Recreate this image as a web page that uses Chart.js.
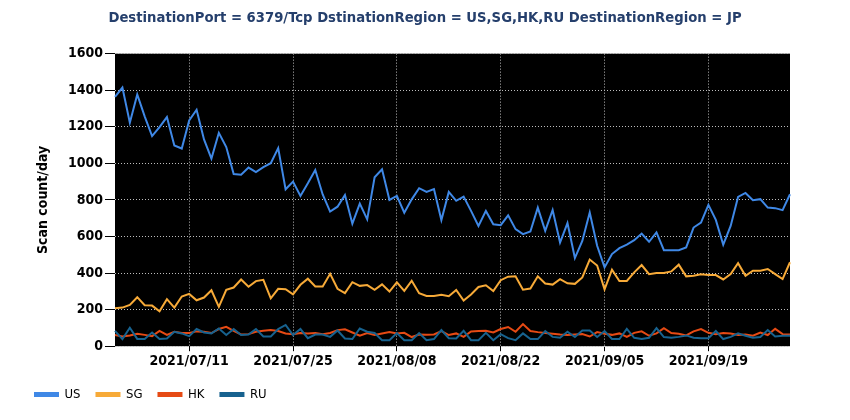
<!DOCTYPE html>
<html>
<head>
<meta charset="utf-8">
<script src="https://cdn.jsdelivr.net/npm/chart.js@4"></script>
<style>
  html, body { margin: 0; padding: 0; background: #fff; }
  #wrap { width: 850px; height: 420px; position: relative; }
</style>
</head>
<body>
<div id="wrap"><canvas id="scanChart"></canvas></div>
<script>
// daily categories 2021/07/01 .. 2021/09/30
const dates = []
for (let d = new Date(2021, 6, 1); d <= new Date(2021, 8, 30); d.setDate(d.getDate() + 1)) {
  dates.push(d.getFullYear() + '/' + String(d.getMonth() + 1).padStart(2, '0') + '/' + String(d.getDate()).padStart(2, '0'))
}
const tickLabels = ['2021/07/11', '2021/07/25', '2021/08/08', '2021/08/22', '2021/09/05', '2021/09/19']

const usData = [1363,1414,1222,1377,1257,1149,1198,1253,1098,1081,1235,1293,1131,1026,1167,1089,942,938,977,952,
  979,1001,1083,858,900,822,891,964,830,736,763,827,670,780,694,924,968,800,822,730,
  803,864,844,859,690,844,795,818,740,658,740,667,662,716,640,613,627,758,631,745,
  567,673,482,576,731,549,431,504,536,555,580,616,571,622,525,525,525,540,649,676,
  773,691,555,658,816,838,798,804,758,755,744,831]
const sgData = [207,211,226,268,224,222,191,257,211,272,286,251,266,306,215,308,321,365,325,356,
  363,262,314,312,284,336,369,327,327,396,314,290,350,330,334,308,338,299,349,303,
  358,290,275,275,281,273,308,250,283,324,333,302,361,380,382,309,315,382,343,337,
  367,344,341,376,474,441,311,419,357,357,404,444,394,400,400,409,446,382,385,393,
  389,389,365,394,454,385,413,413,422,394,367,459]
const hkData = [61,53,59,68,62,55,84,62,79,72,72,81,79,72,94,106,84,64,66,79,
  84,88,83,70,66,72,70,72,66,72,88,92,75,57,72,62,70,77,70,73,
  50,64,62,64,83,61,70,51,81,83,84,75,94,105,79,121,83,77,72,68,
  64,61,64,66,53,77,68,62,70,51,73,81,57,70,99,72,68,59,81,94,
  73,66,72,70,61,64,57,75,61,95,66,64]
const ruData = [84,39,101,40,40,75,39,42,79,70,55,94,75,70,97,61,94,61,64,94,
  53,53,94,116,61,94,44,64,64,51,86,42,39,97,79,72,33,33,72,33,
  33,72,33,39,88,44,42,84,33,33,73,33,66,44,33,70,39,39,83,51,
  46,79,50,86,86,50,83,40,39,95,46,40,46,99,50,46,51,59,46,44,
  44,83,39,51,70,57,46,50,88,53,57,57]

const seriesNames = ['US', 'SG', 'HK', 'RU']
const seriesColors = ['#3f88e6', '#f7aa38', '#e64a14', '#17628f']
const seriesData = [usData, sgData, hkData, ruData]

const FONT = '"DejaVu Sans Condensed", "DejaVu Sans", sans-serif'

// black plot background, and title centred on the whole canvas
const plotBg = {
  id: 'plotBg',
  afterLayout(chart) {
    const t = chart.titleBlock
    if (t) { t.left = 0; t.right = chart.width; t.width = chart.width }
  },
  beforeDraw(chart) {
    const a = chart.chartArea
    const c = chart.ctx
    c.save()
    c.fillStyle = '#000'
    c.fillRect(a.left, a.top, a.right - a.left, a.bottom - a.top)
    c.restore()
  }
}

new Chart(document.getElementById('scanChart'), {
  type: 'line',
  data: {
    labels: dates,
    datasets: seriesData.map((d, i) => ({
      label: seriesNames[i],
      data: d,
      borderColor: seriesColors[i],
      backgroundColor: seriesColors[i],
      borderWidth: 2,
      pointRadius: 0,
      tension: 0,
      order: 3 - i
    }))
  },
  options: {
    responsive: true,
    maintainAspectRatio: false,
    animation: false,
    layout: { padding: { left: 19, right: 60, top: 0, bottom: 9 } },
    plugins: {
      title: {
        display: true,
        text: 'DestinationPort = 6379/Tcp DstinationRegion = US,SG,HK,RU DestinationRegion = JP',
        color: '#253f6c',
        font: { family: FONT, size: 14.7, weight: 'bold' },
        padding: { top: 9, bottom: 27 }
      },
      legend: {
        position: 'bottom',
        align: 'start',
        labels: {
          boxWidth: 23,
          boxHeight: 3,
          padding: 16,
          color: '#000',
          font: { family: FONT, size: 13 },
          sort: (a, b) => a.datasetIndex - b.datasetIndex
        }
      },
      tooltip: { enabled: false }
    },
    scales: {
      x: {
        afterBuildTicks(scale) {
          scale.ticks = scale.ticks.filter(t => tickLabels.includes(dates[t.value]))
        },
        ticks: {
          autoSkip: false,
          maxRotation: 0,
          color: '#000',
          padding: 2,
          font: { family: FONT, size: 14, weight: 'bold' }
        },
        grid: {
          color: '#bdbdbd',
          tickColor: '#000',
          tickBorderDash: [],
          tickLength: 5,
          lineWidth: 1
        },
        border: { display: false, dash: [1, 2] }
      },
      y: {
        min: 0,
        max: 1600,
        afterFit(scale) { scale.width = 96 },
        ticks: {
          stepSize: 200,
          color: '#000',
          padding: 2,
          callback: v => String(v),
          font: { family: FONT, size: 14, weight: 'bold' }
        },
        grid: {
          color: '#bdbdbd',
          tickColor: '#000',
          tickBorderDash: [],
          tickLength: 10,
          lineWidth: 1
        },
        border: { display: false, dash: [1, 2] },
        title: {
          display: true,
          text: 'Scan count/day',
          color: '#000',
          padding: { top: 16, bottom: 0 },
          font: { family: FONT, size: 14, weight: 'bold' }
        }
      }
    }
  },
  plugins: [plotBg]
})
</script>
</body>
</html>
